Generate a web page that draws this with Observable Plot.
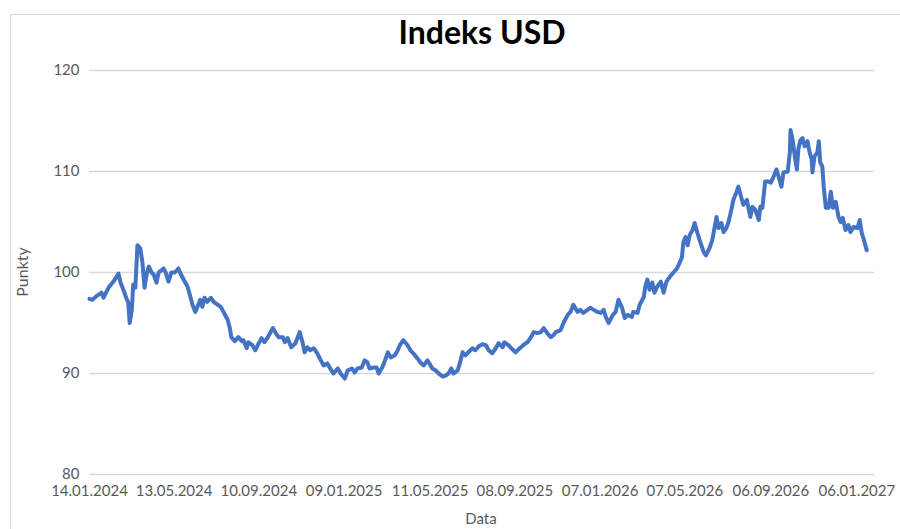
<!DOCTYPE html>
<html>
<head>
<meta charset="utf-8">
<script src="https://cdn.jsdelivr.net/npm/d3@7"></script>
<script src="https://cdn.jsdelivr.net/npm/@observablehq/plot@0.6"></script>
<style>
  html, body { margin: 0; padding: 0; background: #fff; }
  #wrap { position: relative; width: 900px; height: 529px; overflow: hidden; font-family: Lato, "Open Sans", sans-serif; }
  #frame { position: absolute; left: 10px; top: 14px; width: 1000px; height: 1000px; border: 1px solid #d9d9d9; box-sizing: border-box; }
  #title { position: absolute; left: 0; width: 964px; top: 12px; text-align: center; font-size: 32px; font-weight: 700; color: #000; }
  #ylab { position: absolute; left: 21px; top: 272px; transform: translate(-50%, -50%) rotate(-90deg); font-size: 16px; color: #595959; white-space: nowrap; }
  #xlab { position: absolute; left: 481px; top: 518px; transform: translate(-50%, -50%); font-size: 15px; line-height: 16px; color: #595959; }
  #chart { position: absolute; left: 0; top: 0; }
</style>
</head>
<body>
<div id="wrap">
  <div id="frame"></div>
  <div id="chart"></div>
  <div id="title">Indeks USD</div>
  <div id="ylab">Punkty</div>
  <div id="xlab">Data</div>
</div>
<script>
// Days since 14.01.2024 for each reading
const dayIndex = [0,4,9,13,17,20,24,28,34,41,44,48,52,55,57,60,62,65,68,72,75,78,81,84,88,91,95,98,105,108,112,116,121,126,129,132,135,139,143,146,150,153,157,160,163,167,172,176,182,186,190,196,199,201,206,211,216,
218,223,225,231,235,240,244,248,252,260,264,268,274,277,281,286,292,298,302,305,309,313,318,323,328,332,337,343,346,352,356,362,366,372,376,380,386,390,394,397,403,407,410,415,418,423,427,433,437,440,
445,451,455,459,465,469,474,479,482,486,491,495,501,505,509,513,516,522,525,529,533,537,543,547,552,557,562,566,571,576,580,586,588,594,598,604,610,615,621,625,630,635,640,644,649,654,658,
661,668,672,678,682,686,692,696,700,706,710,715,720,725,729,732,736,742,746,750,755,759,763,769,771,777,780,786,788,791,794,798,801,805,810,814,818,823,828,833,835,840,842,845,848,851,855,858,862,866,871,874,
879,883,889,892,896,899,903,906,910,913,917,920,925,927,932,934,937,940,944,949,951,954,958,963,966,970,974,977,981,984,990,993,994,997,1000,1003,1005,1008,1011,1014,1018,1021,1024,1025,1028,1032,1034,1036,1039,1041,1044,1048,1051,1054,1058,1062,1065,1068,1072,1076,1079,1083,1089,1092,1095,1098,1102];

// Index value (points)
const indexValues = [97.4,97.3,97.6,97.8,98.0,97.5,98.1,98.6,99.1,99.9,99.0,98.3,97.5,97.0,95.0,96.3,98.8,98.5,102.7,102.4,101.0,98.5,99.8,100.6,100.0,99.8,99.0,100.0,100.4,100.0,99.1,100.0,100.0,100.4,99.9,99.5,99.1,98.6,97.6,96.8,96.1,96.6,97.3,96.6,97.5,97.1,97.5,97.1,96.8,96.6,96.1,95.3,94.5,93.6,93.2,93.6,93.2,
93.3,92.5,93.1,92.8,92.3,93.0,93.5,93.1,93.5,94.5,94.0,93.6,93.6,93.1,93.5,92.6,93.0,94.1,93.1,92.1,92.6,92.3,92.5,92.0,91.3,90.8,91.0,90.3,90.0,90.5,90.0,89.5,90.3,90.5,90.1,90.5,90.6,91.3,91.1,90.5,90.6,90.6,90.0,90.6,91.1,92.1,91.6,91.8,92.3,92.8,
93.3,92.8,92.3,92.0,91.5,91.1,90.8,91.3,91.0,90.5,90.3,90.0,89.7,89.8,90.0,90.5,90.0,90.3,91.0,92.1,91.8,92.1,92.5,92.3,92.7,92.9,92.8,92.3,92.0,92.5,93.0,92.6,93.1,92.8,92.5,92.1,92.5,92.8,93.1,93.5,94.1,94.0,94.1,94.5,94.0,93.6,93.8,
94.1,94.3,95.0,95.8,96.1,96.8,96.1,96.3,96.0,96.3,96.5,96.3,96.1,96.0,96.3,95.6,95.0,95.8,96.1,97.3,96.5,95.5,95.8,95.6,96.1,96.0,96.8,97.6,98.6,99.3,98.3,99.0,98.0,98.6,99.1,98.0,99.1,99.6,100.0,100.4,100.7,101.5,103.0,103.5,102.7,103.7,104.2,104.9,103.9,103.0,102.0,101.7,
102.4,103.2,105.5,104.4,104.9,104.0,104.4,105.0,106.2,107.2,107.9,108.5,107.2,106.7,107.2,106.5,105.5,106.5,106.2,105.2,106.5,106.4,109.0,109.0,108.9,109.5,110.2,109.5,108.5,109.9,110.0,111.9,114.1,113.1,111.5,110.2,112.2,113.1,113.3,112.5,113.0,111.9,111.2,109.9,111.5,111.9,113.0,110.9,110.5,108.5,106.4,106.4,108.0,106.4,107.0,105.5,105.0,105.4,104.2,104.7,104.0,104.5,104.4,105.2,103.9,103.2,102.2];

const xTickLabels = ["14.01.2024","13.05.2024","10.09.2024","09.01.2025","11.05.2025","08.09.2025","07.01.2026","07.05.2026","06.09.2026","06.01.2027"];
const yTicks = [80, 90, 100, 110, 120];
const startLabel = "14.01.2024";
const endLabel = "31.01.2027";

const parse = d3.utcParse("%d.%m.%Y");
const fmt = d3.utcFormat("%d.%m.%Y");
const start = parse(startLabel);
const data = dayIndex.map((d, i) => ({ date: d3.utcDay.offset(start, d), value: indexValues[i] }));
const xTicks = xTickLabels.map(parse);

const chart = Plot.plot({
  width: 900,
  height: 529,
  marginLeft: 89,
  marginRight: 26,
  marginTop: 70,
  marginBottom: 55,
  style: { fontFamily: "Lato, 'Open Sans', sans-serif", fontSize: "15px", color: "#595959", background: "transparent", overflow: "visible" },
  x: { type: "utc", domain: [start, parse(endLabel)] },
  y: { domain: [80, 120] },
  marks: [
    Plot.ruleY(yTicks, { stroke: "#d9d9d9", strokeWidth: 1.5 }),
    Plot.axisY({ ticks: yTicks, tickSize: 0, tickPadding: 10, label: null, tickFormat: d => String(d) }),
    Plot.axisX({ ticks: xTicks, tickSize: 0, tickPadding: 11, label: null, tickFormat: fmt }),
    Plot.line(data, { x: "date", y: "value", stroke: "#4472C4", strokeWidth: 4, strokeLinejoin: "round", strokeLinecap: "round" })
  ]
});
document.getElementById("chart").appendChild(chart);
</script>
</body>
</html>
